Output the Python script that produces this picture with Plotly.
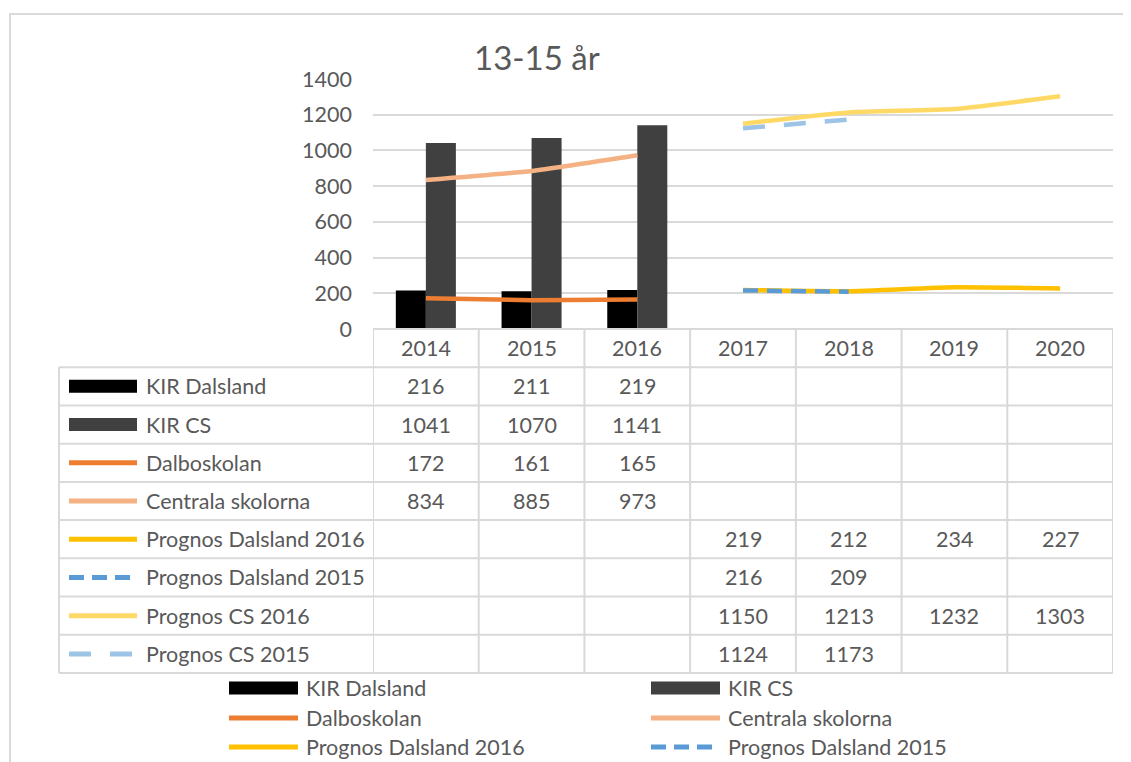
import plotly.graph_objects as go

# ---------------- data ----------------
years = ["2014", "2015", "2016", "2017", "2018", "2019", "2020"]
kir_dalsland = [216, 211, 219, None, None, None, None]
kir_cs = [1041, 1070, 1141, None, None, None, None]
dalboskolan = [172, 161, 165, None, None, None, None]
centrala_skolorna = [834, 885, 973, None, None, None, None]
prognos_dalsland_2016 = [None, None, None, 219, 212, 234, 227]
prognos_dalsland_2015 = [None, None, None, 216, 209, None, None]
prognos_cs_2016 = [None, None, None, 1150, 1213, 1232, 1303]
prognos_cs_2015 = [None, None, None, 1124, 1173, None, None]

title_text = "13-15 år"

# ---------------- geometry helpers ----------------
# the html page body has an 8px margin, so reference pixel coords are shifted by OFF
OFF = 8
W_FIG, H_FIG = 1131 - OFF, 762 - OFF
L, R, T, B = 373 - OFF, 1113 - OFF, 79 - OFF, 329 - OFF
PW, PH = R - L, B - T


def px(x):
    # x given in reference-picture pixels
    return (x - OFF - L) / PW


def py(y):
    return (B - (y - OFF)) / PH


TXT = "#595959"
GRID = "#D9D9D9"
FONT = "Lato"
FS = 21.5

series = [
    dict(name="KIR Dalsland", vals=kir_dalsland, kind="bar", color="#000000"),
    dict(name="KIR CS", vals=kir_cs, kind="bar", color="#404040"),
    dict(name="Dalboskolan", vals=dalboskolan, kind="line", color="#ED7D31", dash="solid", kdash="solid"),
    dict(name="Centrala skolorna", vals=centrala_skolorna, kind="line", color="#F4B183", dash="solid", kdash="solid"),
    dict(name="Prognos Dalsland 2016", vals=prognos_dalsland_2016, kind="line", color="#FFC000", dash="solid", kdash="solid"),
    dict(name="Prognos Dalsland 2015", vals=prognos_dalsland_2015, kind="line", color="#5B9BD5", dash="15px,9px", kdash="15px,8px"),
    dict(name="Prognos CS 2016", vals=prognos_cs_2016, kind="line", color="#FFD966", dash="solid", kdash="solid"),
    dict(name="Prognos CS 2015", vals=prognos_cs_2015, kind="line", color="#9DC3E6", dash="22px,19px", kdash="22px,19px"),
]

fig = go.Figure()
for s in series:
    if s["kind"] == "bar":
        fig.add_trace(go.Bar(x=years, y=s["vals"], name=s["name"],
                             marker=dict(color=s["color"], line=dict(width=0))))
for s in series:
    if s["kind"] == "line":
        fig.add_trace(go.Scatter(x=years, y=s["vals"], name=s["name"], mode="lines",
                                 line=dict(color=s["color"], width=4.5, dash=s["dash"],
                                           shape="spline", smoothing=0.5)))

shapes = []
annotations = []

# outer chart border
shapes.append(dict(type="rect", xref="paper", yref="paper",
                   x0=px(10), x1=px(1150), y0=py(14), y1=py(800),
                   line=dict(color=GRID, width=2), layer="below"))

# ---------------- data table ----------------
row_top = 329
row_h = (673 - row_top) / 9.0
tab_left = 59
tab_right = 1113
n = len(years)

# horizontal lines
shapes.append(dict(type="line", xref="paper", yref="paper", x0=px(373), x1=px(tab_right),
                   y0=py(row_top), y1=py(row_top), line=dict(color=GRID, width=2)))
for i in range(1, 10):
    yy = row_top + i * row_h
    shapes.append(dict(type="line", xref="paper", yref="paper", x0=px(tab_left), x1=px(tab_right),
                       y0=py(yy), y1=py(yy), line=dict(color=GRID, width=2)))
# vertical lines (category boundaries)
for k in range(n + 1):
    shapes.append(dict(type="line", xref="x", yref="paper", x0=k - 0.5, x1=k - 0.5,
                       y0=py(row_top), y1=py(673), line=dict(color=GRID, width=2)))
shapes.append(dict(type="line", xref="paper", yref="paper", x0=px(tab_left), x1=px(tab_left),
                   y0=py(row_top + row_h), y1=py(673), line=dict(color=GRID, width=2)))

# header
for k, yr in enumerate(years):
    annotations.append(dict(x=k, xref="x", y=py(row_top + row_h / 2), yref="paper",
                            text=yr, showarrow=False, xanchor="center", yanchor="middle",
                            font=dict(family=FONT, size=FS, color=TXT)))


def legend_key(x0, x1, yc, s):
    if s["kind"] == "bar":
        shapes.append(dict(type="rect", xref="paper", yref="paper",
                           x0=px(x0), x1=px(x1), y0=py(yc - 6.5), y1=py(yc + 6.5),
                           fillcolor=s["color"], line=dict(width=0)))
    else:
        shapes.append(dict(type="line", xref="paper", yref="paper",
                           x0=px(x0), x1=px(x1), y0=py(yc), y1=py(yc),
                           line=dict(color=s["color"], width=5, dash=s["kdash"])))


for i, s in enumerate(series):
    yc = row_top + (i + 1) * row_h + row_h / 2
    legend_key(69, 137, yc, s)
    annotations.append(dict(x=px(144), xref="paper", y=py(yc), yref="paper",
                            text=s["name"], showarrow=False, xanchor="left", yanchor="middle",
                            font=dict(family=FONT, size=FS, color=TXT)))
    for k, v in enumerate(s["vals"]):
        if v is not None:
            annotations.append(dict(x=k, xref="x", y=py(yc), yref="paper",
                                    text=str(v), showarrow=False, xanchor="center",
                                    yanchor="middle",
                                    font=dict(family=FONT, size=FS, color=TXT)))

# ---------------- bottom legend (only the rows visible in the frame) ----------------
leg_rows = [688, 718, 747]
leg_cols = [(229, 298, 304), (651, 720, 726)]
for i, s in enumerate(series[:6]):
    r, c = divmod(i, 2)
    x0, x1, xt = leg_cols[c]
    yc = leg_rows[r]
    legend_key(x0, x1, yc, s)
    annotations.append(dict(x=px(xt), xref="paper", y=py(yc), yref="paper",
                            text=s["name"], showarrow=False, xanchor="left", yanchor="middle",
                            font=dict(family=FONT, size=FS, color=TXT)))

# title
annotations.append(dict(x=px(537), xref="paper", y=py(57), yref="paper", text=title_text,
                        showarrow=False, xanchor="center", yanchor="middle",
                        font=dict(family=FONT, size=33, color=TXT)))

fig.update_layout(
    width=W_FIG, height=H_FIG,
    margin=dict(l=L, r=W_FIG - R, t=T, b=H_FIG - B, autoexpand=False),
    paper_bgcolor="white", plot_bgcolor="white",
    showlegend=False,
    barmode="group", bargap=0.432, bargroupgap=0,
    shapes=shapes, annotations=annotations,
    xaxis=dict(type="category", range=[-0.5, n - 0.5], showticklabels=False,
               showgrid=False, zeroline=False, showline=False, ticks=""),
    yaxis=dict(range=[0, 1400], dtick=200, showgrid=True, gridcolor=GRID, gridwidth=1.5,
               zeroline=False, showline=False, ticks="", ticklabelstandoff=20,
               tickfont=dict(family=FONT, size=FS, color=TXT)),
)

fig.write_html("out.html")
